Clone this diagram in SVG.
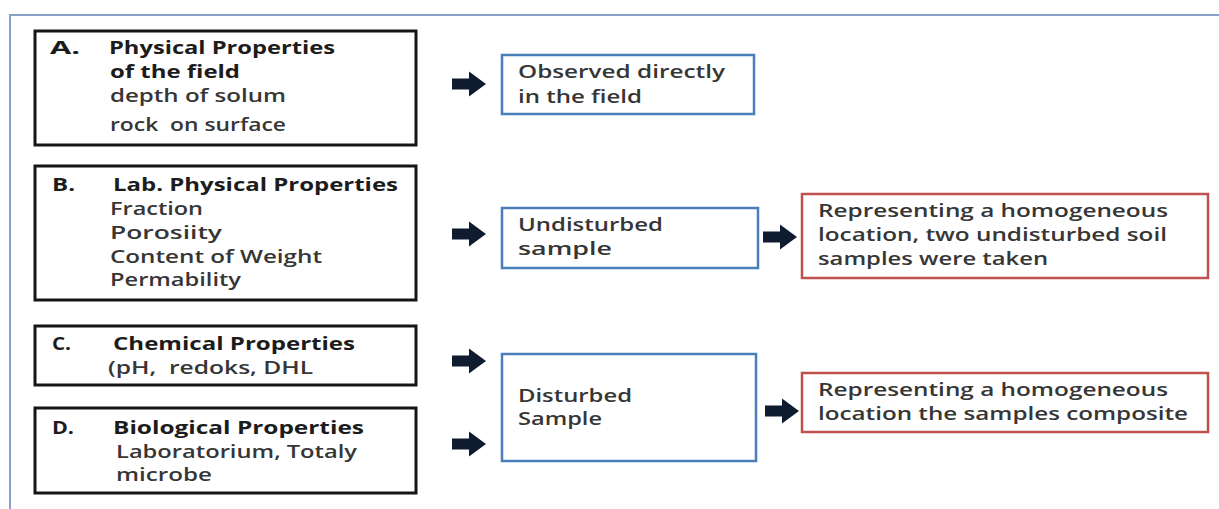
<svg xmlns="http://www.w3.org/2000/svg" xmlns:xlink="http://www.w3.org/1999/xlink" width="1219" height="509" viewBox="0 0 1219 509">
<style>
.bg{fill:#ffffff}
.frame{fill:none;stroke:#8aa2c8;stroke-width:2}
.kbox{fill:#ffffff;stroke:#151515;stroke-width:3}
.bbox{fill:#ffffff;stroke:#4a7ebb;stroke-width:2.5}
.rbox{fill:#ffffff;stroke:#c0504d;stroke-width:2.5}
text{font-family:"Open Sans","Noto Sans","Liberation Sans",sans-serif;font-size:18px;font-weight:600;fill:#363636;white-space:pre}
.b{font-weight:700;fill:#1c1c1c}
.arr{fill:#0f1c30}
</style>
<defs>
<path id="ar" d="M0,-5.5 H17 V-12.5 L34,0 L17,12.5 V5.5 H0 Z"/>
</defs>
<rect class="bg" x="0" y="0" width="1219" height="509"/>
<path class="frame" d="M10,509 V15 H1219"/>

<g id="nodeA">
<rect class="kbox" x="35" y="31" width="381" height="114"/>
<text class="b" x="50" y="54" textLength="30" lengthAdjust="spacingAndGlyphs">A.</text>
<text class="b" x="109" y="54" textLength="226" lengthAdjust="spacingAndGlyphs">Physical Properties</text>
<text class="b" x="110" y="78" textLength="130" lengthAdjust="spacingAndGlyphs">of the field</text>
<text x="110" y="102" textLength="176" lengthAdjust="spacingAndGlyphs">depth of solum</text>
<text x="110" y="131" textLength="176" lengthAdjust="spacingAndGlyphs">rock  on surface</text>
</g>

<g id="nodeB">
<rect class="kbox" x="35" y="166" width="381" height="134"/>
<text class="b" x="52" y="191" textLength="23" lengthAdjust="spacingAndGlyphs">B.</text>
<text class="b" x="113" y="191" textLength="285" lengthAdjust="spacingAndGlyphs">Lab. Physical Properties</text>
<text x="110" y="215" textLength="93" lengthAdjust="spacingAndGlyphs">Fraction</text>
<text x="110" y="239" textLength="112" lengthAdjust="spacingAndGlyphs">Porosiity</text>
<text x="110" y="263" textLength="212" lengthAdjust="spacingAndGlyphs">Content of Weight</text>
<text x="110" y="286" textLength="131" lengthAdjust="spacingAndGlyphs">Permability</text>
</g>

<g id="nodeC">
<rect class="kbox" x="35" y="326" width="381" height="59"/>
<text class="b" x="52" y="350" textLength="19" lengthAdjust="spacingAndGlyphs">C.</text>
<text class="b" x="113" y="350" textLength="242" lengthAdjust="spacingAndGlyphs">Chemical Properties</text>
<text x="108" y="374" textLength="205" lengthAdjust="spacingAndGlyphs">(pH,  redoks, DHL</text>
</g>

<g id="nodeD">
<rect class="kbox" x="35" y="408" width="381" height="85"/>
<text class="b" x="52" y="434" textLength="22" lengthAdjust="spacingAndGlyphs">D.</text>
<text class="b" x="113" y="434" textLength="251" lengthAdjust="spacingAndGlyphs">Biological Properties</text>
<text x="116" y="458" textLength="241" lengthAdjust="spacingAndGlyphs">Laboratorium, Totaly</text>
<text x="116" y="481" textLength="96" lengthAdjust="spacingAndGlyphs">microbe</text>
</g>

<g id="nodeObserved">
<rect class="bbox" x="502" y="55" width="252" height="59"/>
<text x="518" y="78" textLength="207" lengthAdjust="spacingAndGlyphs">Observed directly</text>
<text x="518" y="103" textLength="124" lengthAdjust="spacingAndGlyphs">in the field</text>
</g>

<g id="nodeUndisturbed">
<rect class="bbox" x="502" y="208" width="256" height="60"/>
<text x="518" y="231" textLength="145" lengthAdjust="spacingAndGlyphs">Undisturbed</text>
<text x="518" y="255" textLength="94" lengthAdjust="spacingAndGlyphs">sample</text>
</g>

<g id="nodeDisturbed">
<rect class="bbox" x="502" y="354" width="254" height="107"/>
<text x="518" y="402" textLength="114" lengthAdjust="spacingAndGlyphs">Disturbed</text>
<text x="518" y="425" textLength="84" lengthAdjust="spacingAndGlyphs">Sample</text>
</g>

<g id="nodeRep1">
<rect class="rbox" x="802" y="194" width="406" height="84"/>
<text x="818" y="217" textLength="350" lengthAdjust="spacingAndGlyphs">Representing a homogeneous</text>
<text x="818" y="241" textLength="349" lengthAdjust="spacingAndGlyphs">location, two undisturbed soil</text>
<text x="818" y="265" textLength="230" lengthAdjust="spacingAndGlyphs">samples were taken</text>
</g>

<g id="nodeRep2">
<rect class="rbox" x="802" y="373" width="406" height="59"/>
<text x="818" y="396" textLength="350" lengthAdjust="spacingAndGlyphs">Representing a homogeneous</text>
<text x="818" y="420" textLength="370" lengthAdjust="spacingAndGlyphs">location the samples composite</text>
</g>

<g id="connectors" class="arr">
<use xlink:href="#ar" href="#ar" x="452" y="84"/>
<use xlink:href="#ar" href="#ar" x="452" y="234"/>
<use xlink:href="#ar" href="#ar" x="452" y="361"/>
<use xlink:href="#ar" href="#ar" x="452" y="444"/>
<use xlink:href="#ar" href="#ar" x="763" y="237"/>
<use xlink:href="#ar" href="#ar" x="765" y="411"/>
</g>
</svg>
